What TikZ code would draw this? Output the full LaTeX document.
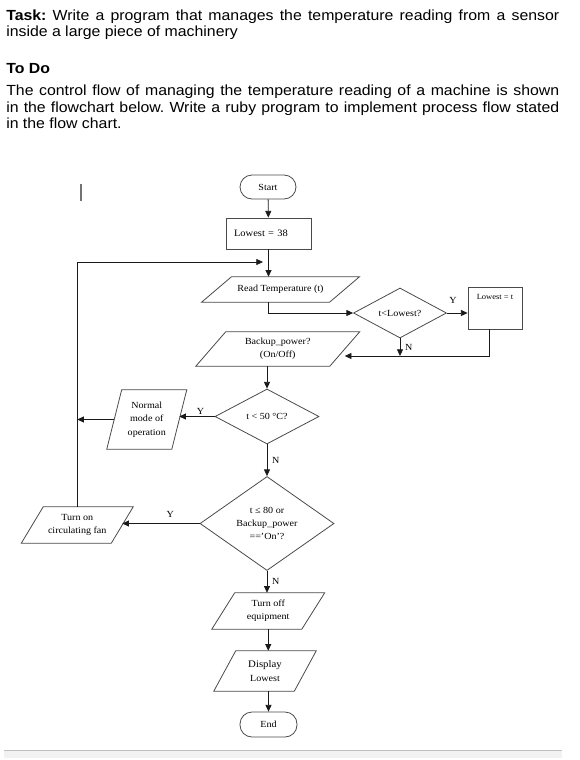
\documentclass[tikz,border=0pt]{standalone}
\usepackage{fontspec}
\setmainfont{Liberation Serif}[FakeStretch=1.08]
\setsansfont{Liberation Sans}[FakeStretch=1.08]
\usepackage{xcolor}
\usepackage{tikz}
\usetikzlibrary{arrows.meta,shapes.geometric}
\definecolor{ink}{HTML}{1A1A1A}
\definecolor{edgegray}{HTML}{4A4A4A}
\definecolor{barfill}{HTML}{F2F2F2}
\newcommand{\chartfont}{\fontsize{7}{10}\selectfont}
\frenchspacing
\tikzset{
  term/.style  ={draw=edgegray,line width=0.6pt,rounded corners=9pt,minimum width=42pt,
                 minimum height=18pt,font=\chartfont},
  proc/.style  ={draw=edgegray,line width=0.6pt,inner sep=3pt,font=\chartfont},
  dec/.style   ={diamond,draw=edgegray,line width=0.6pt,inner sep=0pt,align=center,
                 font=\chartfont},
  iotext/.style={inner sep=0pt,align=center,font=\chartfont},
  iobox/.style ={draw=edgegray,line width=0.6pt},
  flow/.style  ={-{Triangle[length=5pt,width=4.5pt]},line width=0.6pt,draw=ink},
  lab/.style   ={font=\chartfont,inner sep=1.5pt},
  para/.style  ={font=\sffamily\fontsize{11}{12.3}\selectfont,text width=414.75pt,
                 align=justify,inner sep=0pt,anchor=base west}
}
% name, centre, mid width, height, slant, text
\newcommand{\ionode}[6]{%
  \node[iotext,minimum width=#3,minimum height=#4] (#1) at #2 {#6};
  \draw[iobox] ([xshift=#5/2]#1.north west) -- ([xshift=#5/2]#1.north east)
    -- ([xshift=-#5/2]#1.south east) -- ([xshift=-#5/2]#1.south west) -- cycle;}

\begin{document}
\begin{tikzpicture}[x=0.75pt,y=-0.75pt]
  \useasboundingbox (0,0) rectangle (579,760);
  \node[para] (task) at (6,20.5) {\textbf{Task:} Write a program that manages the temperature
    reading from a sensor\linebreak inside a large piece of machinery};
  \node[para,font=\sffamily\bfseries\fontsize{11}{12.3}\selectfont] (todo) at (6,73) {To Do};
  \node[para] (intro) at (6,95.7) {The control flow of managing the temperature reading of a
    machine is shown\linebreak in the flowchart below. Write a ruby program to implement
    process flow stated\linebreak in the flow chart.};
  \draw[black!55,line width=1pt] (81,184) -- (81,201);

  \node[term] (start) at (268,187) {Start};
  \node[proc,minimum width=63.75pt,minimum height=23.25pt,text width=51.75pt,align=left,
        font=\fontsize{7.3}{9}\selectfont] (init) at (268.5,233.5) {Lowest = 38};
  \ionode{read}{(280.5,289.5)}{95.6pt}{18.75pt}{22.5pt}{Read Temperature (t)}
  \node[dec,minimum width=69.75pt,minimum height=37.5pt] (lt) at (400,313) {t<Lowest?};
  \node[proc,minimum width=40.5pt,text height=6.5pt,text depth=19pt,
        font=\fontsize{5.9}{8}\selectfont] (upd) at (495,308) {Lowest = t};
  \ionode{backup}{(277.75,349)}{100.1pt}{25.5pt}{22.5pt}{Backup\_power?\\(On/Off)}
  \node[dec,minimum width=78pt,minimum height=41.25pt] (t50) at (267,416.5) {t < 50 °C?};
  \ionode{normal}{(146.75,419.5)}{48.4pt}{44.25pt}{11.25pt}{Normal\\mode of\\operation}
  \node[dec,minimum width=100.5pt,minimum height=65.25pt] (t80) at (267,523.5)
        {t ≤ 80 or\\Backup\_power\\==’On’?};
  \ionode{fan}{(77.25,525)}{67.1pt}{27pt}{16.5pt}{Turn on\\circulating fan}
  \ionode{off}{(268.25,611)}{67.1pt}{27pt}{17.25pt}{Turn off\\equipment}
  \ionode{disp}{(265,671)}{60pt}{30pt}{16.5pt}{\fontsize{7.5}{10.5}\selectfont Display\\Lowest}
  \node[term,minimum width=42.75pt,minimum height=18.75pt] (stop) at (268.5,724.5) {End};
  \coordinate (join) at (263,262);
  \coordinate (merge) at ([yshift=-5.25pt]backup.east);

  \draw[flow] (start) -- (init);
  \draw[flow] (init.south) -- (init.south |- read.north);
  \draw[flow] (read.south -| init.south) |- (lt.west);
  \draw[flow] (lt.east) -- node[lab,above=5pt,pos=0.3]{Y} (lt.east -| upd.west);
  \draw[flow] ([xshift=-4.5pt]upd.south) |- (merge);
  \draw[flow] (lt.south) -- node[lab,right=2pt]{N} (lt.south |- merge);
  \draw[flow] (backup.south -| t50.north) -- (t50.north);
  \draw[flow] (t50.west) -- node[lab,above,pos=0.4]{Y} (t50.west -| normal.east);
  \draw[flow] (normal.west) -- (normal.west -| fan.north);
  \draw[flow] (t50.south) -- node[lab,right=2pt]{N} (t80.north);
  \draw[flow] (t80.west) -- node[lab,above=3pt,pos=0.38]{Y} (t80.west -| fan.east);
  \draw[flow] (fan.north) |- (join);
  \draw[flow] (t80.south) -- node[lab,right=2pt]{N} (t80.south |- off.north);
  \draw[flow] (off.south) -- (off.south |- disp.north);
  \draw[flow] (stop.north |- disp.south) -- (stop.north);

  \fill[barfill] (4,750) rectangle (562,758);
  \draw[black!25] (4,750) -- (562,750);
\end{tikzpicture}
\end{document}
